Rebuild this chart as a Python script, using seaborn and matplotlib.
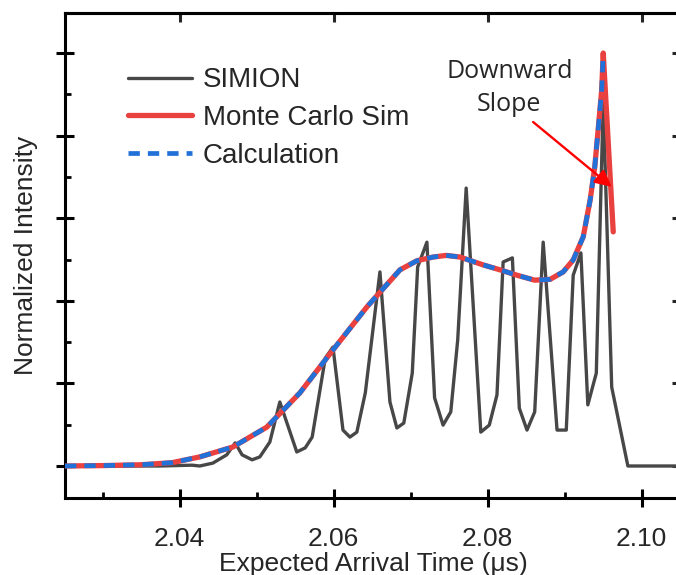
import numpy as np
import pandas as pd
import matplotlib
matplotlib.use("Agg")
import matplotlib.pyplot as plt
import seaborn as sns
from matplotlib.ticker import MultipleLocator, FixedLocator, NullLocator

# ---------------- data ----------------
simion_x = [2.0251, 2.0374, 2.0416, 2.0426, 2.0443, 2.0461, 2.0472, 2.0481, 2.0494,
            2.0504, 2.0517, 2.0530, 2.0552, 2.0563, 2.0572, 2.0589, 2.0599, 2.0612,
            2.0621, 2.0630, 2.0641, 2.0660, 2.0673, 2.0682, 2.0691, 2.0702, 2.0709,
            2.0721, 2.0731, 2.0742, 2.0752, 2.0761, 2.0772, 2.0791, 2.0802, 2.0812,
            2.0820, 2.0832, 2.0841, 2.0851, 2.0861, 2.0872, 2.0890, 2.0902, 2.0911,
            2.0921, 2.0930, 2.0941, 2.0950, 2.0961, 2.0982, 2.1060]
simion_y = [0.000, 0.000, 0.002, 0.000, 0.007, 0.027, 0.056, 0.027, 0.015,
            0.022, 0.058, 0.155, 0.034, 0.044, 0.070, 0.261, 0.288, 0.087,
            0.070, 0.082, 0.177, 0.470, 0.155, 0.092, 0.104, 0.225, 0.482,
            0.542, 0.165, 0.099, 0.131, 0.305, 0.673, 0.082, 0.099, 0.172,
            0.494, 0.504, 0.140, 0.087, 0.131, 0.542, 0.087, 0.087, 0.462,
            0.516, 0.148, 0.225, 0.886, 0.191, 0.000, 0.000]

mc_x = [2.0251, 2.0300, 2.0350, 2.0390, 2.0426, 2.0469, 2.0513, 2.0556, 2.0599,
        2.0643, 2.0686, 2.0708, 2.0729, 2.0746, 2.0764, 2.0794, 2.0816, 2.0838,
        2.0861, 2.0881, 2.0898, 2.0911, 2.0924, 2.0933, 2.0939, 2.0943, 2.0948,
        2.0950, 2.0963]
mc_y = [0.000, 0.001, 0.003, 0.008, 0.022, 0.046, 0.094, 0.177, 0.281,
        0.385, 0.475, 0.497, 0.506, 0.510, 0.506, 0.487, 0.475, 0.462,
        0.450, 0.452, 0.470, 0.499, 0.555, 0.644, 0.724, 0.806, 0.910,
        1.000, 0.567]

calc_x = [2.0251, 2.0300, 2.0350, 2.0390, 2.0426, 2.0469, 2.0513, 2.0556, 2.0599,
          2.0643, 2.0686, 2.0708, 2.0729, 2.0746, 2.0764, 2.0794, 2.0816, 2.0838,
          2.0861, 2.0881, 2.0898, 2.0911, 2.0924, 2.0933, 2.0939, 2.0943, 2.0948,
          2.0950]
calc_y = [0.000, 0.001, 0.003, 0.008, 0.022, 0.046, 0.094, 0.177, 0.281,
          0.385, 0.475, 0.497, 0.506, 0.510, 0.506, 0.487, 0.475, 0.462,
          0.450, 0.452, 0.470, 0.499, 0.555, 0.644, 0.724, 0.806, 0.910,
          1.000]

series_labels = ["SIMION", "Monte Carlo Sim", "Calculation"]
x_ticks = [2.04, 2.06, 2.08, 2.10]
x_tick_labels = ["2.04", "2.06", "2.08", "2.10"]
y_ticks = [0.0, 0.2, 0.4, 0.6, 0.8, 1.0]
annotation_text = "Downward\nSlope"
x_label = "Expected Arrival Time (\u03bcs)"
y_label = "Normalized Intensity"

# ---------------- plotting ----------------
sns.set_style("white")
plt.rcParams['font.family'] = ['Liberation Sans', 'DejaVu Sans']

fig = plt.figure(figsize=(6.76, 5.75), dpi=100)
ax = fig.add_axes([65 / 676, 1 - 498 / 575, (681 - 65) / 676, 485 / 575])

df_sim = pd.DataFrame({"t": simion_x, "I": simion_y})
df_mc = pd.DataFrame({"t": mc_x, "I": mc_y})
df_calc = pd.DataFrame({"t": calc_x, "I": calc_y})

sns.lineplot(data=df_sim, x="t", y="I", ax=ax, color="#474747", lw=2.4,
             label=series_labels[0], estimator=None, sort=False, zorder=2)
sns.lineplot(data=df_mc, x="t", y="I", ax=ax, color="#e8413f", lw=3.8,
             label=series_labels[1], estimator=None, sort=False, zorder=3)
sns.lineplot(data=df_calc, x="t", y="I", ax=ax, color="#2171d8", lw=3.4,
             linestyle=(0, (2.4, 1.7)), label=series_labels[2],
             estimator=None, sort=False, zorder=4)

ax.set_xlim(2.0251, 2.1051)
ax.set_ylim(-0.0775, 1.097)

ax.xaxis.set_major_locator(FixedLocator(x_ticks))
ax.set_xticklabels(x_tick_labels)
ax.xaxis.set_minor_locator(MultipleLocator(0.01))
ax.yaxis.set_major_locator(FixedLocator(y_ticks))
ax.yaxis.set_minor_locator(MultipleLocator(0.1))

ax.tick_params(which='major', direction='inout', length=13.5, width=2.2,
               color='black', bottom=True, left=True, top=False, right=False,
               labelleft=False, labelbottom=True, labelsize=19, pad=14)
ax.tick_params(which='minor', direction='in', length=4.5, width=2,
               color='black', bottom=True, left=True, top=False, right=False)

for sp in ax.spines.values():
    sp.set_visible(True)
    sp.set_color('black')
    sp.set_linewidth(2.2)

secx = ax.secondary_xaxis('top')
secx.xaxis.set_major_locator(FixedLocator(x_ticks))
secx.xaxis.set_minor_locator(NullLocator())
secx.tick_params(direction='in', length=6.5, width=2.2, top=True,
                 labeltop=False, labelbottom=False)
secx.spines['top'].set_linewidth(2.2)

secy = ax.secondary_yaxis('right')
secy.yaxis.set_major_locator(FixedLocator(y_ticks))
secy.yaxis.set_minor_locator(NullLocator())
secy.tick_params(direction='in', length=6.5, width=2.2, right=True,
                 labelright=False, labelleft=False)
secy.spines['right'].set_linewidth(2.2)

ax.set_xlabel(x_label, fontsize=19, labelpad=1)
ax.set_ylabel(y_label, fontsize=19, labelpad=13)

ax.legend(loc='upper left', bbox_to_anchor=(0.102, 0.888), frameon=False,
          fontsize=20, handlelength=2.3, handletextpad=0.4,
          labelspacing=0.42, borderpad=0, borderaxespad=0)

ax.annotate('', xy=(2.0961, 0.676), xytext=(2.0859, 0.833),
            arrowprops=dict(arrowstyle='-|>', color='#ff0000', lw=1.7,
                            mutation_scale=25, shrinkA=0, shrinkB=0),
            zorder=6)
ax.text(2.0828, 0.915, annotation_text, ha='center', va='center',
        fontsize=18, family=['Open Sans', 'DejaVu Sans'],
        linespacing=1.4, zorder=6)

fig.savefig("out.png", dpi=100)
